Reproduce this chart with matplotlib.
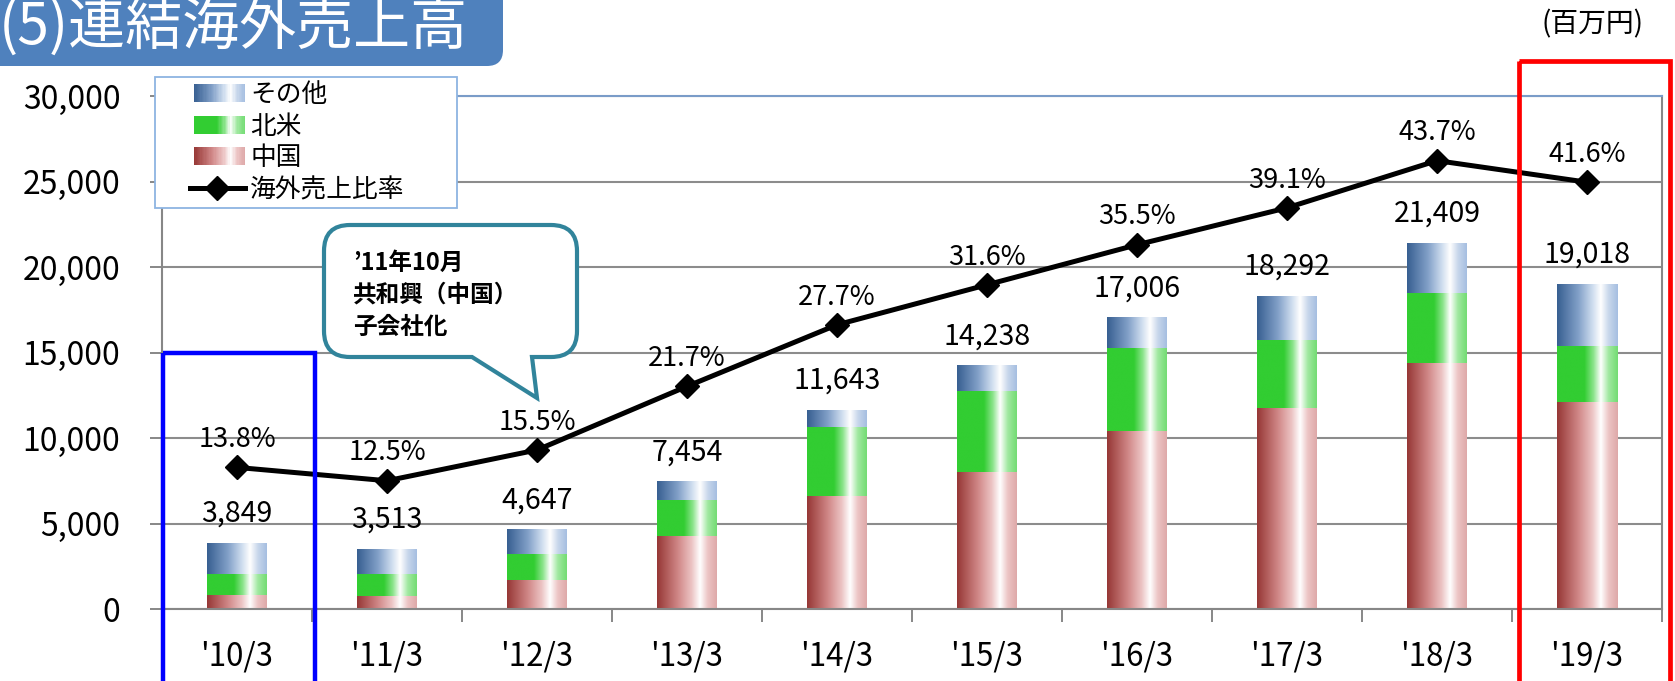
import numpy as np
import matplotlib
matplotlib.use('Agg')
import matplotlib.pyplot as plt
from matplotlib.path import Path
from matplotlib.patches import PathPatch, Rectangle
from matplotlib.colors import LinearSegmentedColormap
from matplotlib.legend_handler import HandlerBase
from matplotlib.lines import Line2D

plt.rcParams['font.family'] = ['Noto Sans CJK JP', 'DejaVu Sans']

# data (百万円)
periods = ["'10/3", "'11/3", "'12/3", "'13/3", "'14/3",
           "'15/3", "'16/3", "'17/3", "'18/3", "'19/3"]
china = [820, 760, 1690, 4240, 6610, 8030, 10410, 11770, 14400, 12120]
north_america = [1240, 1300, 1520, 2140, 4050, 4710, 4840, 3980, 4100, 3280]
other = [1789, 1453, 1437, 1074, 983, 1498, 1756, 2542, 2909, 3618]
totals = [3849, 3513, 4647, 7454, 11643, 14238, 17006, 18292, 21409, 19018]
overseas_ratio = [13.8, 12.5, 15.5, 21.7, 27.7, 31.6, 35.5, 39.1, 43.7, 41.6]

W, H = 1675, 681


def make_cmap(name, stops):
    return LinearSegmentedColormap.from_list(
        name, [(p, np.array(c) / 255.0) for p, c in stops])


cmap_other = make_cmap('other', [(0, (55, 95, 145)), (0.35, (130, 160, 200)),
                                 (0.58, (205, 220, 238)), (0.72, (255, 255, 255)),
                                 (0.85, (200, 215, 235)), (1, (165, 190, 225))])
cmap_na = make_cmap('na', [(0, (50, 205, 50)), (0.45, (50, 205, 50)),
                           (0.6, (140, 228, 140)), (0.72, (255, 255, 255)),
                           (0.85, (160, 232, 160)), (1, (115, 220, 115))])
cmap_cn = make_cmap('cn', [(0, (150, 55, 53)), (0.35, (208, 135, 135)),
                           (0.58, (236, 196, 196)), (0.72, (255, 255, 255)),
                           (0.85, (236, 196, 196)), (1, (222, 168, 168))])


class GradientHandler(HandlerBase):
    def __init__(self, cmap, frac=0.4):
        super().__init__()
        self.cmap = cmap
        self.frac = frac

    def create_artists(self, legend, orig_handle, xdescent, ydescent,
                       width, height, fontsize, trans):
        n = 40
        x0 = -xdescent + width * self.frac
        w = width * (1 - self.frac)
        arts = []
        for i in range(n):
            arts.append(Rectangle((x0 + w * i / n, -ydescent), w / n * 1.1, height,
                                  facecolor=self.cmap((i + 0.5) / n),
                                  edgecolor='none', transform=trans))
        return arts


class LineHandler(HandlerBase):
    def create_artists(self, legend, orig_handle, xdescent, ydescent,
                       width, height, fontsize, trans):
        x0 = -xdescent + width * 0.35
        x1 = -xdescent + width
        y = -ydescent + height / 2
        ln = Line2D([x0, x1], [y, y], color='black', lw=3.6, transform=trans)
        mk = Line2D([(x0 + x1) / 2], [y], marker='D', ms=12, color='black',
                    transform=trans)
        return [ln, mk]


fig = plt.figure(figsize=(W / 100, H / 100), dpi=100)
ax = fig.add_axes([162 / W, (H - 609) / H, 1500 / W, 513 / H])

x = np.arange(len(periods))
bw = 0.4
bottom_na = np.array(china)
bottom_other = bottom_na + np.array(north_america)
b_cn = ax.bar(x, china, bw, facecolor='none', edgecolor='none')
b_na = ax.bar(x, north_america, bw, bottom=bottom_na, facecolor='none', edgecolor='none')
b_ot = ax.bar(x, other, bw, bottom=bottom_other, facecolor='none', edgecolor='none')

grad = np.linspace(0, 1, 256).reshape(1, -1)
for cont, cm in [(b_cn, cmap_cn), (b_na, cmap_na), (b_ot, cmap_other)]:
    for p in cont.patches:
        ax.imshow(grad, cmap=cm, aspect='auto', interpolation='bilinear', zorder=2,
                  extent=[p.get_x(), p.get_x() + p.get_width(),
                          p.get_y(), p.get_y() + p.get_height()])

for i, t in enumerate(totals):
    ax.annotate(f'{t:,}', (x[i], t), xytext=(0, 21), textcoords='offset points',
                ha='center', va='center', fontsize=20.5, zorder=4)

ax.set_xlim(-0.5, len(periods) - 0.5)
ax.set_ylim(0, 30000)
ax.set_yticks(np.arange(0, 30001, 5000))
ax.set_yticklabels([f'{v:,}' for v in range(0, 30001, 5000)])
ax.set_xticks(x)
ax.set_xticklabels(periods)
ax.set_xticks(np.arange(-0.5, len(periods), 1), minor=True)
ax.tick_params(axis='x', which='major', length=0, pad=23, labelsize=22.5)
ax.tick_params(axis='x', which='minor', length=9, width=1.4, color='#878787')
ax.tick_params(axis='y', length=9, width=1.4, color='#878787', pad=21, labelsize=23)
ax.yaxis.grid(True, color='#8c8c8c', lw=1.5)
ax.set_axisbelow(True)
for s in ['left', 'bottom', 'right']:
    ax.spines[s].set_color('#878787')
    ax.spines[s].set_linewidth(1.5)
ax.spines['top'].set_color('#7a9cc8')
ax.spines['top'].set_linewidth(1.5)

ax2 = ax.twinx()
ax2.plot(x, overseas_ratio, color='black', lw=3.6, marker='D', ms=12, zorder=5)
ax2.set_ylim(0, 50)
ax2.set_xlim(-0.5, len(periods) - 0.5)
ax2.set_yticks([])
for s in ax2.spines.values():
    s.set_visible(False)
for i, v in enumerate(overseas_ratio):
    ax2.annotate(f'{v}%', (x[i], v), xytext=(0, 20), textcoords='offset points',
                 ha='center', va='center', fontsize=19.5)

h_ot = Rectangle((0, 0), 1, 1)
h_na = Rectangle((0, 0), 1, 1)
h_cn = Rectangle((0, 0), 1, 1)
h_ln = Line2D([], [])
leg = ax2.legend([h_ot, h_na, h_cn, h_ln], ['その他', '北米', '中国', '海外売上比率'],
                 handler_map={h_ot: GradientHandler(cmap_other),
                              h_na: GradientHandler(cmap_na),
                              h_cn: GradientHandler(cmap_cn),
                              h_ln: LineHandler()},
                 loc='upper left', bbox_to_anchor=(155 / W, 1 - 197 / H, 302 / W, 120 / H),
                 bbox_transform=fig.transFigure, mode='expand', borderaxespad=0,
                 fontsize=18.5, handlelength=3.3, handletextpad=0.2, labelspacing=0.22,
                 borderpad=0.2, fancybox=False, framealpha=1)
leg.get_frame().set_edgecolor('#8db4e2')
leg.get_frame().set_linewidth(1.3)

# overlay in figure pixels for decorations
ov = fig.add_axes([0, 0, 1, 1], zorder=10)
ov.set_xlim(0, W)
ov.set_ylim(H, 0)
ov.axis('off')

# title box
r = 16
tv = [(0, 0), (503, 0), (503, 66 - r), (503, 66), (503 - r, 66), (0, 66), (0, 0)]
tc = [Path.MOVETO, Path.LINETO, Path.LINETO, Path.CURVE3, Path.CURVE3, Path.LINETO, Path.CLOSEPOLY]
ov.add_patch(PathPatch(Path(tv, tc), facecolor='#4f81bd', edgecolor='none'))
ov.text(-1, 27, '(5)連結海外売上高', color='white', fontsize=41, ha='left', va='center')

ov.text(1593, 24, '(百万円)', fontsize=20, ha='center', va='center')

# callout
x0, x1, y0, y1, r = 324, 577, 225, 357, 26
cv = [(x0 + r, y0), (x1 - r, y0), (x1, y0), (x1, y0 + r), (x1, y1 - r), (x1, y1), (x1 - r, y1),
      (532, y1), (537, 398), (472, y1), (x0 + r, y1), (x0, y1), (x0, y1 - r),
      (x0, y0 + r), (x0, y0), (x0 + r, y0), (x0 + r, y0)]
cc = [Path.MOVETO, Path.LINETO, Path.CURVE3, Path.CURVE3, Path.LINETO, Path.CURVE3, Path.CURVE3,
      Path.LINETO, Path.LINETO, Path.LINETO, Path.LINETO, Path.CURVE3, Path.CURVE3,
      Path.LINETO, Path.CURVE3, Path.CURVE3, Path.CLOSEPOLY]
ov.add_patch(PathPatch(Path(cv, cc), facecolor='white', edgecolor='#31849b', lw=3))
ov.text(353, 295, '’11年10月\n共和興（中国）\n子会社化', fontsize=17, fontweight='bold',
        ha='left', va='center', linespacing=1.4)

# highlight frames
ov.add_patch(Rectangle((163, 353), 152, 400, facecolor='none', edgecolor='#0000ff', lw=3.2))
ov.add_patch(Rectangle((1519, 61), 151, 700, facecolor='none', edgecolor='#ff0000', lw=3.4))

fig.savefig('out.png', dpi=100)
